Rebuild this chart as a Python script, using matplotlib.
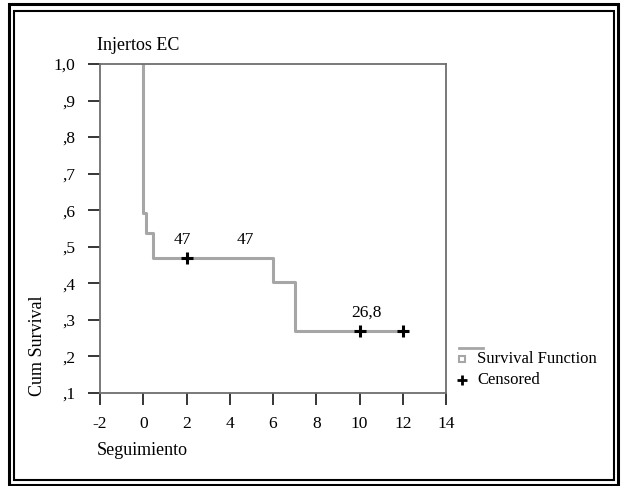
import matplotlib
matplotlib.use("Agg")
import matplotlib.pyplot as plt
from matplotlib.lines import Line2D
from matplotlib.patches import Rectangle

plt.rcParams['font.family'] = ['Liberation Serif', 'DejaVu Serif']

# Kaplan-Meier step data (time, cumulative survival after that time)
step_times = [0, 0, 0.15, 0.45, 6, 7, 12]
step_surv = [1.0, 0.592, 0.538, 0.47, 0.403, 0.27, 0.27]

censored_times = [2, 10, 12]
censored_surv = [0.47, 0.27, 0.27]

annot_text = ["47", "47", "26,8"]
annot_x = [1.8, 4.7, 10.3]
annot_y = [0.519, 0.519, 0.319]

xticks = list(range(-2, 15, 2))
yticks = [0.1, 0.2, 0.3, 0.4, 0.5, 0.6, 0.7, 0.8, 0.9, 1.0]
ytick_labels = [",1", ",2", ",3", ",4", ",5", ",6", ",7", ",8", ",9", "1,0"]

W, H = 621, 486
fig = plt.figure(figsize=(W / 100, H / 100), dpi=100)
ax = fig.add_axes([100 / W, 1 - 393 / H, 346 / W, 329 / H])

# survival curve as step function (hold value until next time)
ax.step(step_times, step_surv, where='post', color='#a6a6a6', lw=2.2, zorder=2)
ax.plot(censored_times, censored_surv, ls='none', marker='+', ms=9, mew=2.2,
        color='black', zorder=3)
for t, x, y in zip(annot_text, annot_x, annot_y):
    ax.text(x, y, t, ha='center', va='center', fontsize=12.5)

ax.set_xlim(-2, 14)
ax.set_ylim(0.1, 1.0)
ax.set_xticks(xticks)
ax.set_xticklabels([str(t) for t in xticks])
ax.set_yticks(yticks)
ax.set_yticklabels(ytick_labels)
ax.tick_params(direction='out', length=8.5, width=1.1, color='black',
               labelsize=12.5)
ax.tick_params(axis='x', pad=8)
ax.tick_params(axis='y', pad=9)
for sp in ax.spines.values():
    sp.set_color('#6e6e6e')
    sp.set_linewidth(1.3)

fig.text(97 / W, 1 - 45 / H, "Injertos EC", ha='left', va='center', fontsize=13)
fig.text(97 / W, 1 - 450 / H, "Seguimiento", ha='left', va='center', fontsize=13)
fig.text(37 / W, 1 - 346 / H, "Cum Survival", ha='center', va='center',
         rotation=90, fontsize=13)

# legend drawn in figure pixels
def fx(px):
    return px / W

def fy(py):
    return 1 - py / H

fig.add_artist(Line2D([fx(459), fx(483)], [fy(348), fy(348)], color='#a6a6a6', lw=2))
fig.add_artist(Line2D([fx(462)], [fy(359)], marker='s', ms=5, mfc='white',
                      mec='#a6a6a6', mew=1.5, ls='none'))
fig.add_artist(Line2D([fx(462)], [fy(380)], marker='+', ms=7, mew=2,
                      color='black', ls='none'))
fig.text(fx(477), fy(359), "Survival Function", ha='left', va='center', fontsize=12)
fig.text(fx(477), fy(380), "Censored", ha='left', va='center', fontsize=12)

# double frame around the whole figure
fig.add_artist(Rectangle((fx(8.5), fy(484.5)), fx(618) - fx(8.5), fy(4.5) - fy(484.5),
                         fill=False, ec='black', lw=2.2, transform=fig.transFigure))
fig.add_artist(Rectangle((fx(14), fy(480)), fx(614) - fx(14), fy(11) - fy(480),
                         fill=False, ec='black', lw=1.5, transform=fig.transFigure))

fig.savefig("out.png", dpi=100)
